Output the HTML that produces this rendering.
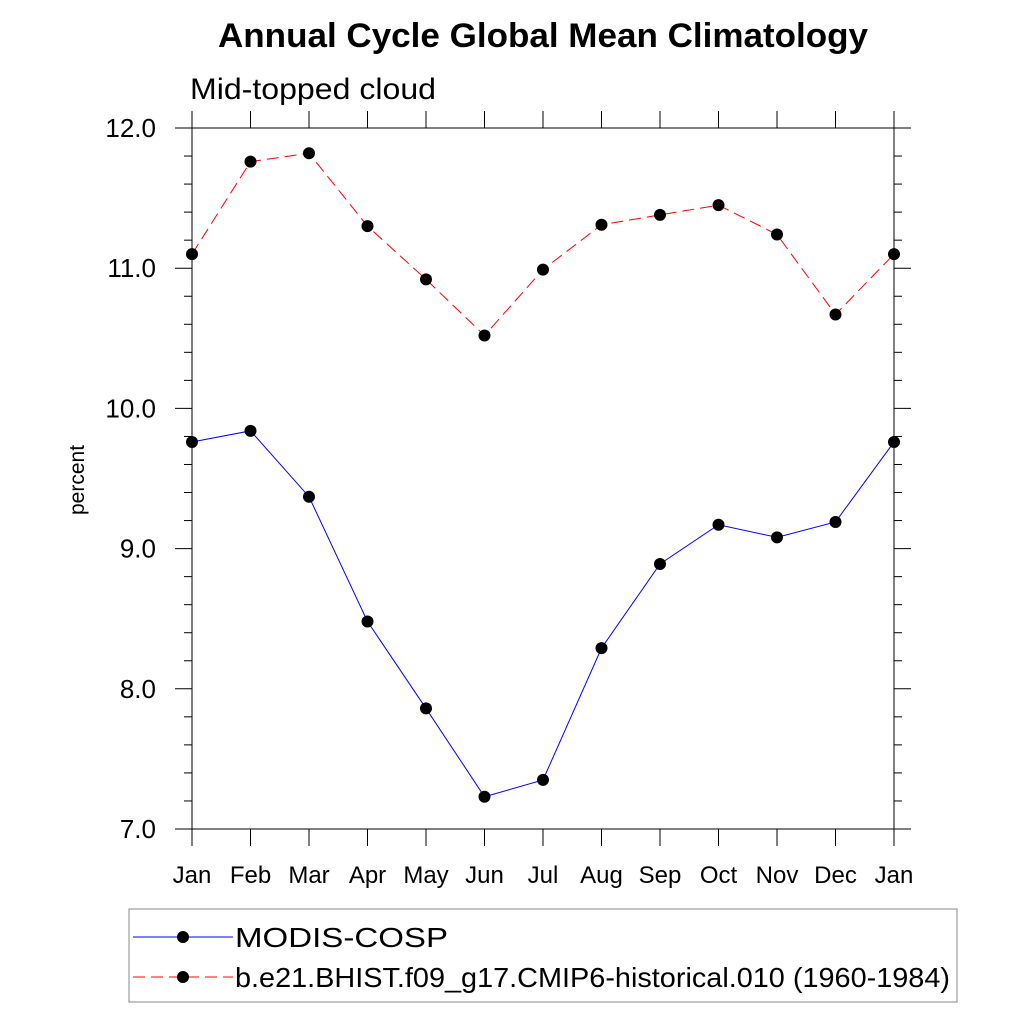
<!DOCTYPE html>
<html><head><meta charset="utf-8"><style>
body{margin:0;background:#fff;}
svg{display:block;font-family:"Liberation Sans",sans-serif;}
</style></head><body>
<svg id="c" width="1024" height="1024" viewBox="0 0 1024 1024">
<text x="218" y="47" font-size="34" font-weight="bold" textLength="650" lengthAdjust="spacingAndGlyphs">Annual Cycle Global Mean Climatology</text>
<text x="190" y="99" font-size="30" textLength="246" lengthAdjust="spacingAndGlyphs">Mid-topped cloud</text>
<text transform="translate(84,480) rotate(-90)" text-anchor="middle" font-size="21">percent</text>
<g id="axes"></g>
<g id="series"></g>
<rect x="129" y="909" width="828" height="93" fill="none" stroke="#888" stroke-width="1"/>
<g>
<line x1="133" y1="937" x2="233" y2="937" stroke="#00f" stroke-width="1"/>
<circle cx="183" cy="937" r="6"/>
<text x="235" y="947" font-size="28" textLength="213" lengthAdjust="spacingAndGlyphs">MODIS-COSP</text>
</g>
<g>
<line x1="133" y1="977" x2="233" y2="977" stroke="#f00" stroke-width="1" stroke-dasharray="12,6"/>
<circle cx="183" cy="977" r="6"/>
<text x="235" y="987" font-size="28" textLength="715" lengthAdjust="spacingAndGlyphs">b.e21.BHIST.f09_g17.CMIP6-historical.010 (1960-1984)</text>
</g>
</svg>
<script>
const months=["Jan","Feb","Mar","Apr","May","Jun","Jul","Aug","Sep","Oct","Nov","Dec","Jan"];
const modis=[9.76,9.84,9.37,8.48,7.86,7.23,7.35,8.29,8.89,9.17,9.08,9.19,9.76];
const model=[11.10,11.76,11.82,11.30,10.92,10.52,10.99,11.31,11.38,11.45,11.24,10.67,11.10];
const yTicks=["7.0","8.0","9.0","10.0","11.0","12.0"];
const NS="http://www.w3.org/2000/svg";
const L=192,R=894,T=128,B=829,ymin=7,ymax=12;
const xs=i=>L+(R-L)*i/(months.length-1);
const ys=v=>B-(v-ymin)/(ymax-ymin)*(B-T);
function mk(p,tag,a){const e=document.createElementNS(NS,tag);for(const k in a)e.setAttribute(k,a[k]);p.appendChild(e);return e;}
const ax=document.getElementById('axes');
const fr=mk(ax,'rect',{x:L,y:T,width:R-L,height:B-T,fill:'none',stroke:'#000','stroke-width':1});


months.forEach((m,i)=>{
 const x=xs(i);
 mk(ax,'line',{x1:x,y1:B,x2:x,y2:B+17,stroke:'#000'});
 mk(ax,'line',{x1:x,y1:T,x2:x,y2:T-17,stroke:'#000'});
 const t=mk(ax,'text',{x:x,y:883,'text-anchor':'middle','font-size':24});
 t.textContent=m;
 
 
});
for(let v=ymin;v<=ymax+1e-9;v+=0.2){
 const y=ys(v);const maj=Math.abs(v-Math.round(v))<1e-6;const len=maj?17:8;
 mk(ax,'line',{x1:L,y1:y,x2:L-len,y2:y,stroke:'#000'});
 mk(ax,'line',{x1:R,y1:y,x2:R+len,y2:y,stroke:'#000'});
}
yTicks.forEach(s=>{
 const t=mk(ax,'text',{x:156,y:ys(parseFloat(s))+9,'text-anchor':'end','font-size':26});
 t.textContent=s;
 
 
});
const sg=document.getElementById('series');
function draw(data,color,dash,name){
 const g=mk(sg,'g',{});
 
 
 const pl=mk(g,'polyline',{points:data.map((v,i)=>xs(i)+','+ys(v)).join(' '),fill:'none',stroke:color,'stroke-width':1});
 if(dash)pl.setAttribute('stroke-dasharray',dash);
 data.forEach((v,i)=>{const c=mk(g,'circle',{cx:xs(i),cy:ys(v),r:6});
  
  });
}
draw(modis,'#00f',null,'series-modis');
draw(model,'#f00','12,6','series-model');
</script>
</body></html>
